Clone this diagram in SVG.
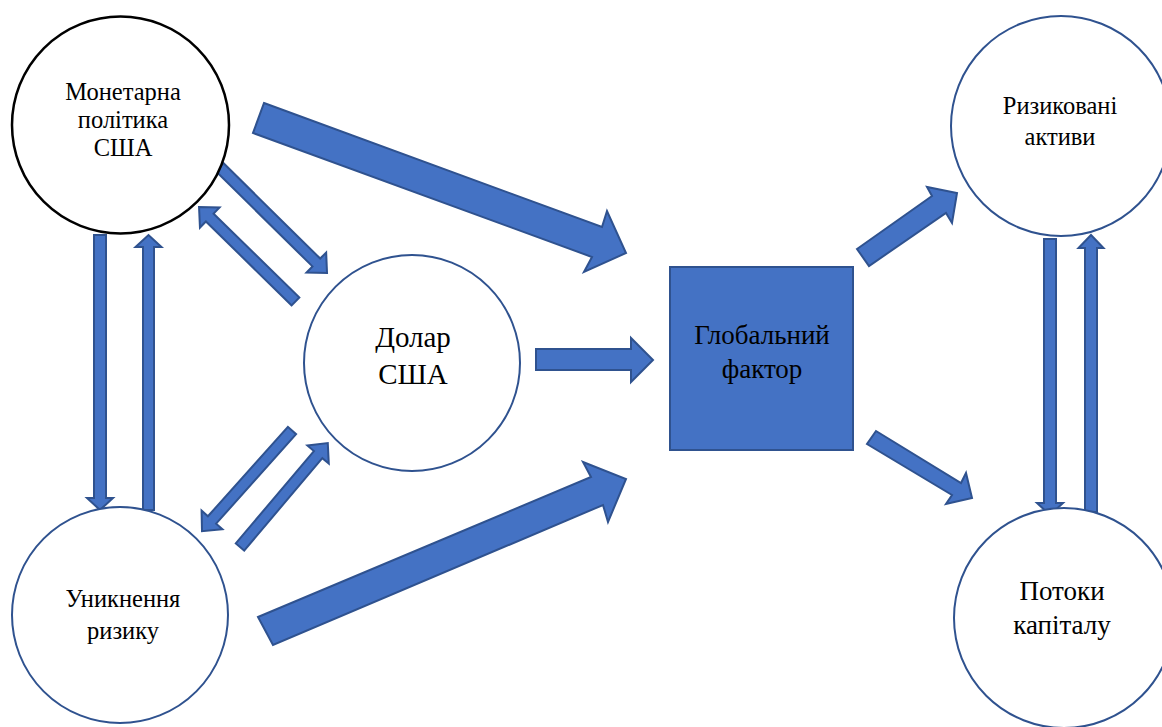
<svg xmlns="http://www.w3.org/2000/svg" width="1162" height="727" viewBox="0 0 1162 727">
<style>
.c{fill:#fff;stroke:#2F528F;stroke-width:2}
.c0{fill:#fff;stroke:#000;stroke-width:2.5}
.a{fill:#4472C4;stroke:#2F528F;stroke-width:2;stroke-linejoin:miter}
.t{font-family:"Liberation Serif","Times New Roman",serif;fill:#000;text-anchor:middle}
</style>
<rect width="1162" height="727" fill="#fff"/>
<g id="connectors">
<polygon class="a" points="264,103 602,227 607,211 626,253 584,272 592,257 253,133"/>
<polygon class="a" points="258,617 591,477 583,462 626,479 608,522 603,505 273,645"/>
<polygon class="a" points="536,349 631,349 631,338 653,360 631,382 631,370 536,370"/>
<polygon class="a" points="857,249 932,196 927,187 957,193 952,223 946,213 869,266"/>
<polygon class="a" points="876,431 961,483 966,473 972,498 946,504 952,495 867,444"/>
<polygon class="a" transform="translate(219.5,167) rotate(44.6)" points="0,-5.5 136,-5.5 136,-14 151,0 136,14 136,5.5 0,5.5"/>
<polygon class="a" transform="translate(295.5,301.5) rotate(224.4)" points="0,-5.5 120,-5.5 120,-14 135,0 120,14 120,5.5 0,5.5"/>
<polygon class="a" transform="translate(292,430.5) rotate(131.8)" points="0,-5.5 120,-5.5 120,-14 135,0 120,14 120,5.5 0,5.5"/>
<polygon class="a" transform="translate(240,547) rotate(-49.8)" points="0,-5.5 121,-5.5 121,-14 136,0 121,14 121,5.5 0,5.5"/>
<polygon class="a" points="94,235 106,235 106,498 113,498 100,510 87,498 94,498"/>
<polygon class="a" points="143,510 154,510 154,247 161.5,247 148.5,235 135.5,247 143,247"/>
<polygon class="a" points="1044,239 1056,239 1056,503 1063,503 1050,515 1037,503 1044,503"/>
<polygon class="a" points="1085,512 1097,512 1097,248 1103.5,248 1091,235 1078.5,248 1085,248"/>
</g>
<g id="monetary">
<circle class="c0" cx="120.5" cy="125" r="108.5"/>
<text class="t" font-size="24.5" x="123" y="100">Монетарна</text>
<text class="t" font-size="24.5" x="123" y="128">політика</text>
<text class="t" font-size="24.5" x="123" y="156">США</text>
</g>
<g id="dollar">
<circle class="c" cx="412" cy="363" r="108"/>
<text class="t" font-size="29" x="413" y="347">Долар</text>
<text class="t" font-size="29" x="413" y="384">США</text>
</g>
<g id="risk-avoidance">
<circle class="c" cx="120" cy="615" r="108"/>
<text class="t" font-size="24.5" x="123" y="607">Уникнення</text>
<text class="t" font-size="24.5" x="123" y="639">ризику</text>
</g>
<g id="global-factor">
<rect x="670" y="267" width="183" height="183" fill="#4472C4" stroke="#2F528F" stroke-width="2"/>
<text class="t" font-size="27" x="762" y="344">Глобальний</text>
<text class="t" font-size="27" x="762" y="378">фактор</text>
</g>
<g id="risk-assets">
<circle class="c" cx="1061" cy="126" r="110"/>
<text class="t" font-size="24.5" x="1060" y="114">Ризиковані</text>
<text class="t" font-size="24.5" x="1060" y="145">активи</text>
</g>
<g id="capital-flows">
<circle class="c" cx="1064" cy="618" r="110"/>
<text class="t" font-size="27" x="1062" y="600">Потоки</text>
<text class="t" font-size="27" x="1062" y="634">капіталу</text>
</g>
</svg>
